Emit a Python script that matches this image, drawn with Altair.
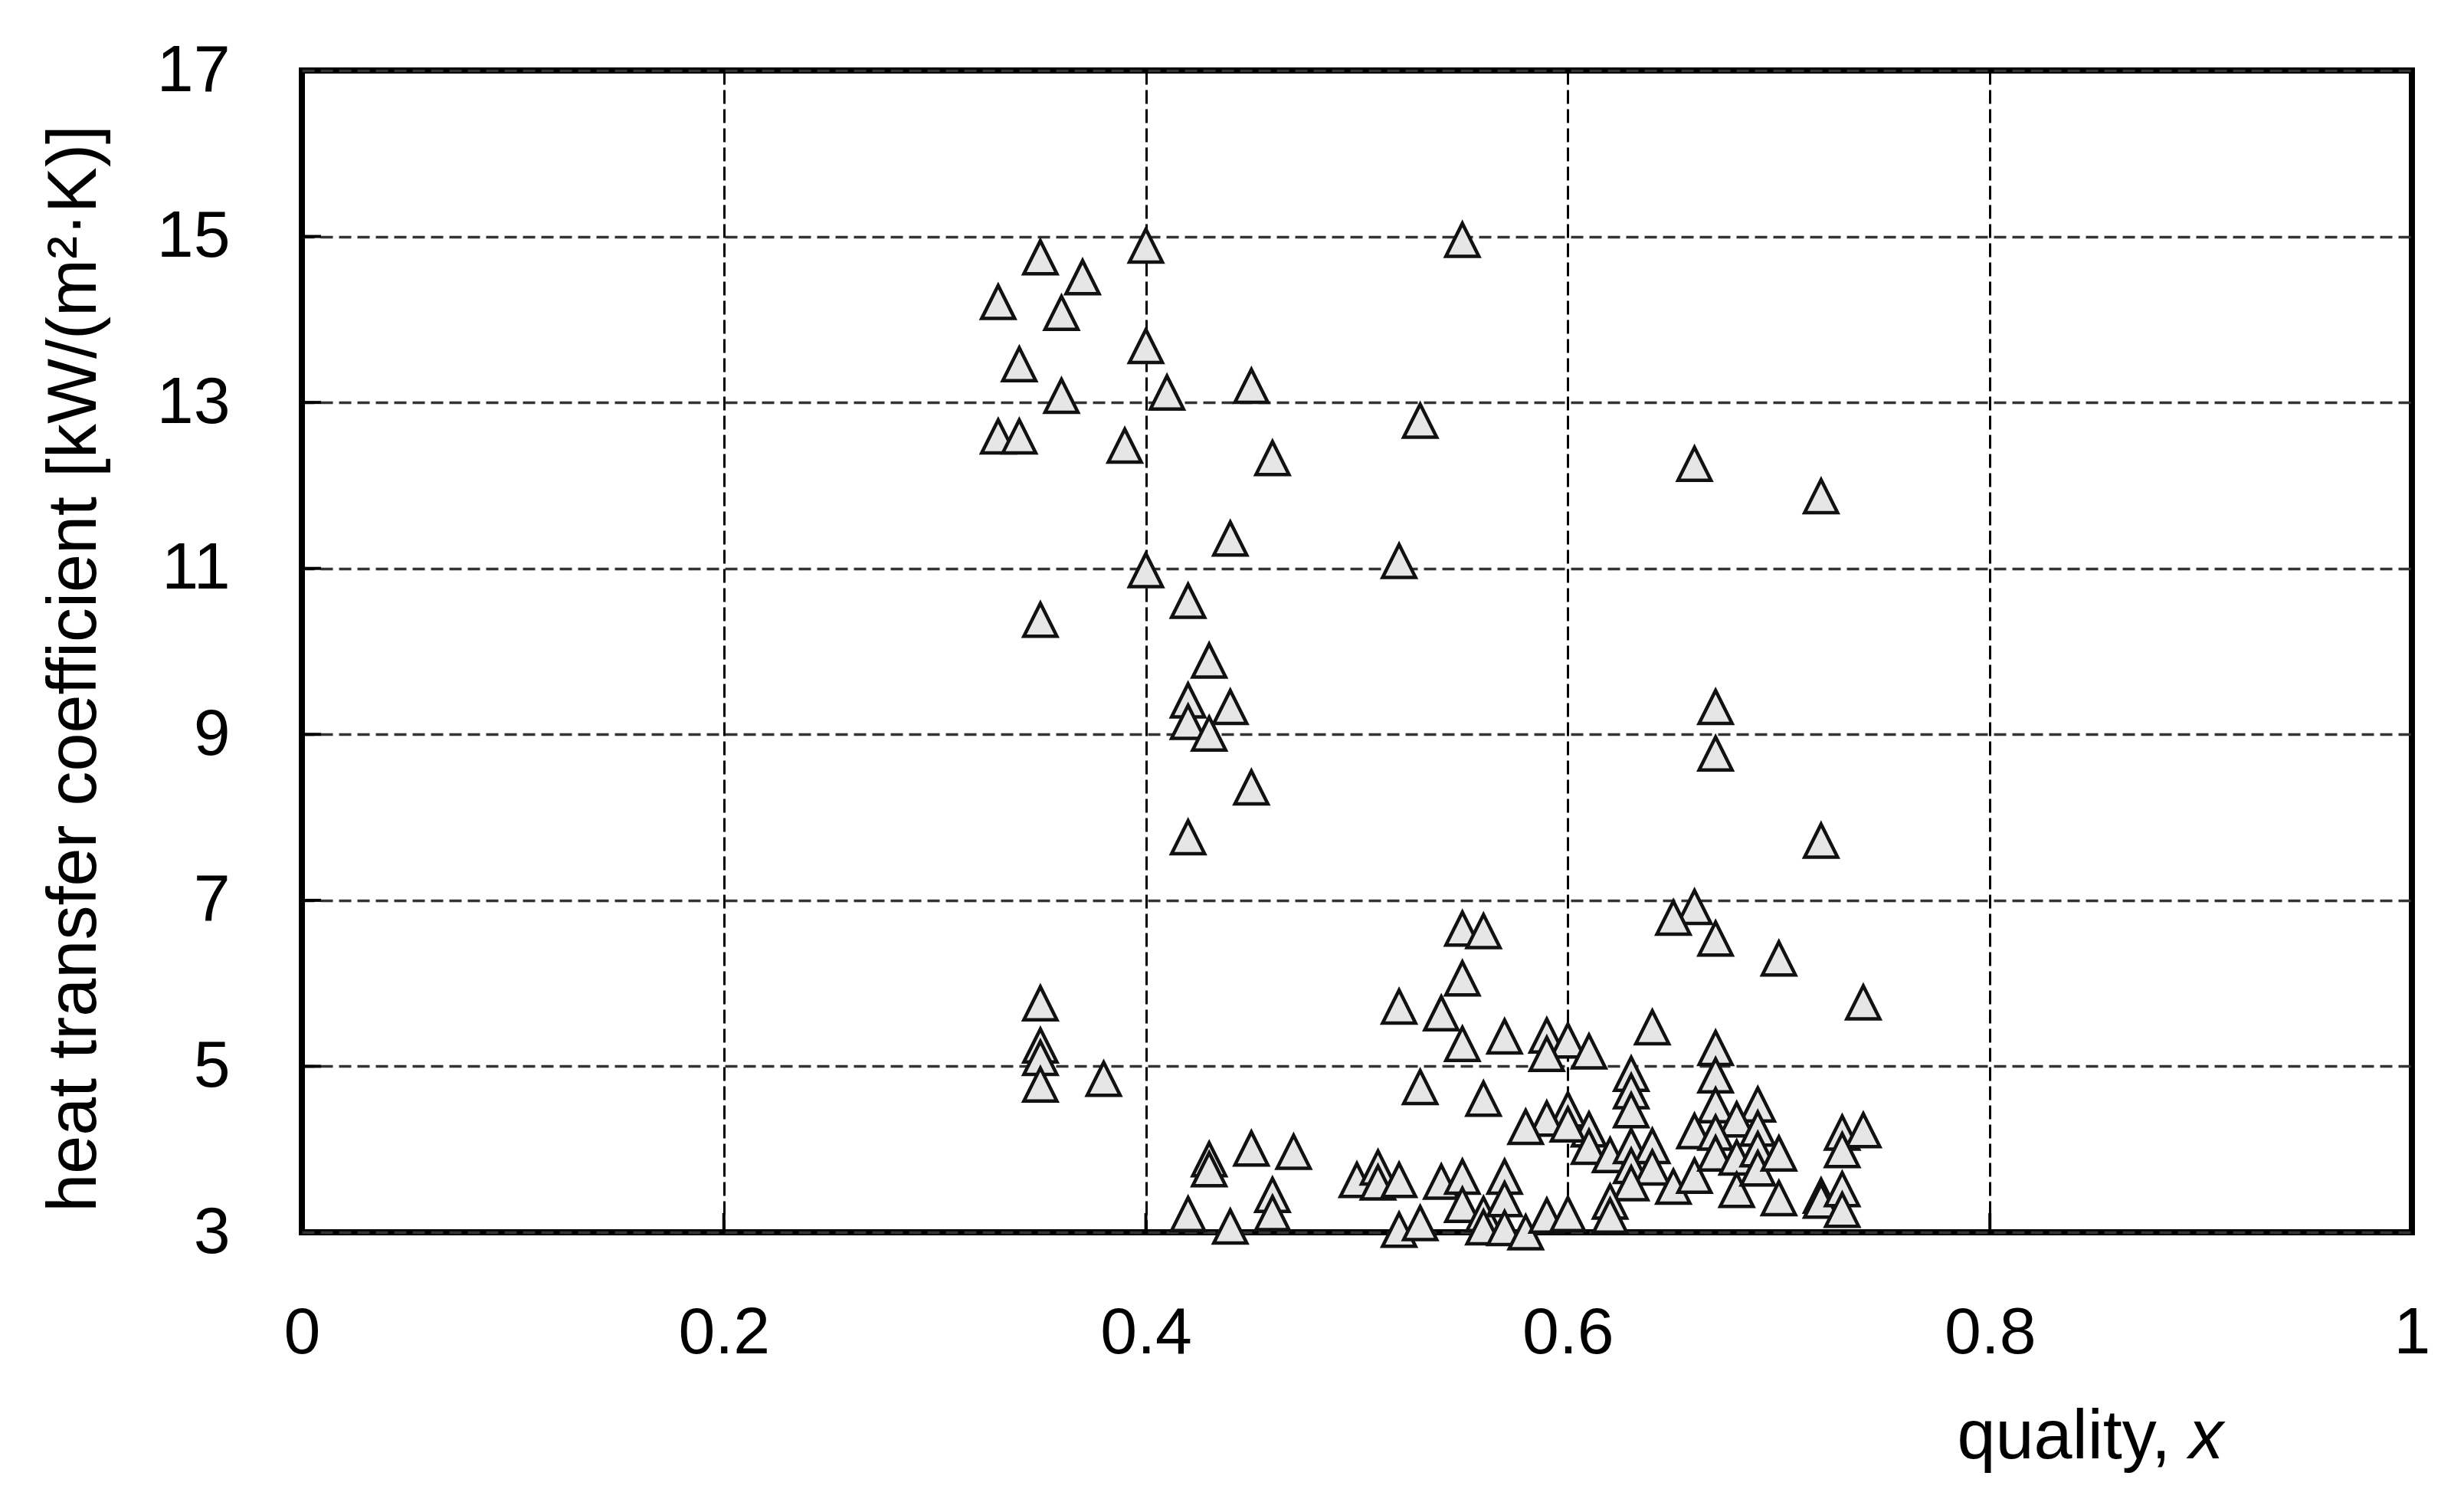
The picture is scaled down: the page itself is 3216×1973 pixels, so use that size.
import altair as alt
import pandas as pd

# ---- data ----
quality = [
    0.35, 0.40, 0.55, 0.33, 0.37, 0.36, 0.34, 0.40, 0.36, 0.41, 0.45, 0.33, 0.34, 0.39,
    0.53, 0.46, 0.66, 0.72, 0.44, 0.52, 0.40, 0.42, 0.35, 0.43, 0.42, 0.44, 0.42, 0.43,
    0.67, 0.67, 0.45, 0.42, 0.72,
    0.66, 0.65, 0.55, 0.56, 0.67, 0.70, 0.55, 0.35, 0.74, 0.52, 0.54, 0.64, 0.57, 0.55,
    0.59, 0.60, 0.61, 0.59, 0.67, 0.35, 0.35, 0.35, 0.38, 0.63, 0.67, 0.53, 0.56, 0.63,
    0.63, 0.67, 0.69, 0.60, 0.59, 0.58, 0.61, 0.60, 0.68, 0.66, 0.67, 0.69, 0.73, 0.74,
    0.61, 0.62, 0.63, 0.64, 0.63, 0.64, 0.63, 0.65, 0.66, 0.67, 0.68, 0.68, 0.69, 0.69,
    0.70, 0.70, 0.72, 0.72, 0.73, 0.73, 0.73,
    0.43, 0.43, 0.45, 0.47, 0.42, 0.44, 0.46, 0.46, 0.50, 0.51, 0.51, 0.52, 0.54, 0.55,
    0.55, 0.52, 0.53, 0.56, 0.56, 0.57, 0.57, 0.57, 0.58, 0.59, 0.60, 0.62, 0.62,
]
htc = [
    14.75, 14.89, 14.96, 14.21, 14.51, 14.08, 13.46, 13.68, 13.08, 13.12, 13.20, 12.59, 12.59, 12.48,
    12.78, 12.33, 12.26, 11.87, 11.36, 11.09, 10.98, 10.61, 10.38, 9.89, 9.41, 9.33, 9.15, 9.01,
    9.33, 8.77, 8.36, 7.76, 7.72,
    6.92, 6.79, 6.66, 6.63, 6.54, 6.30, 6.06, 5.76, 5.77, 5.72, 5.64, 5.47, 5.36, 5.27,
    5.37, 5.31, 5.18, 5.15, 5.22, 5.25, 5.10, 4.78, 4.85, 4.91, 4.89, 4.75, 4.61, 4.70,
    4.47, 4.53, 4.54, 4.48, 4.37, 4.27, 4.24, 4.30, 4.36, 4.22, 4.20, 4.25, 4.20, 4.23,
    4.03, 3.93, 4.04, 4.04, 3.80, 3.78, 3.59, 3.55, 3.68, 3.95, 3.90, 3.51, 4.00, 3.77,
    3.95, 3.41, 3.44, 3.38, 3.99, 3.52, 3.27,
    3.88, 3.76, 4.01, 3.97, 3.22, 3.07, 3.45, 3.23, 3.63, 3.78, 3.60, 3.63, 3.61, 3.67,
    3.33, 3.03, 3.11, 3.22, 3.06, 3.67, 3.40, 3.05, 3.00, 3.20, 3.22, 3.37, 3.20,
]
x_ticks = [0, 0.2, 0.4, 0.6, 0.8, 1]
y_ticks = [3, 5, 7, 9, 11, 13, 15, 17]
y_title = "heat transfer coefficient [kW/(m²·K)]"
x_title = "quality,"
x_title_var = "x"

# ---- layout / style ----
W, H = 2754, 1516
FONT = "Liberation Sans"
LABEL_SIZE = 86
TITLE_SIZE = 90

df = pd.DataFrame({"quality": quality, "htc": htc})

xscale = alt.Scale(domain=[0, 1], nice=False, zero=False)
yscale = alt.Scale(domain=[3, 17], nice=False, zero=False)

xaxis = alt.Axis(
    values=x_ticks, format="~g", grid=True, gridColor="#000000", gridWidth=3,
    gridDash=[18, 7], domain=False, ticks=False, labelFontSize=LABEL_SIZE,
    labelFont=FONT, labelColor="#000000", labelPadding=89, labelFlush=False,
    labelOverlap=False, title=None,
)
yaxis = alt.Axis(
    values=y_ticks, grid=True, gridColor="#333333", gridWidth=3.5, gridDash=[16, 8],
    domain=False, ticks=False, labelFontSize=LABEL_SIZE, labelFont=FONT,
    labelColor="#000000", labelPadding=94, labelFlush=False, labelOverlap=False,
    title=y_title, titleFont=FONT, titleFontSize=TITLE_SIZE, titleFontWeight="normal",
    titleColor="#000000", titleX=-297, titleY=780, titleAngle=270,
    titleAlign="center", titleBaseline="middle",
)

xtick_df = pd.DataFrame({"v": x_ticks[1:-1]})
ytick_df = pd.DataFrame({"v": y_ticks[1:-1]})

xt = alt.Chart(xtick_df).mark_rule(color="#000000", strokeWidth=4).encode(
    x=alt.X("v:Q", scale=xscale, axis=xaxis),
    y=alt.value(H), y2=alt.value(H - 25),
)
yt = alt.Chart(ytick_df).mark_rule(color="#000000", strokeWidth=4).encode(
    y=alt.Y("v:Q", scale=yscale, axis=yaxis),
    x=alt.value(0), x2=alt.value(25),
)

points = alt.Chart(df).mark_point(
    shape="M0,-1L1,1L-1,1Z", size=1850, filled=True, fill="#e6e6e6",
    stroke="#111111", strokeWidth=4.5, opacity=1, fillOpacity=1, strokeJoin="miter",
).encode(
    x=alt.X("quality:Q", scale=xscale, axis=xaxis),
    y=alt.Y("htc:Q", scale=yscale, axis=yaxis),
)

one = alt.Data(values=[{"a": 1}])
t1 = alt.Chart(one).mark_text(
    text=x_title, align="right", baseline="alphabetic", font=FONT,
    fontSize=TITLE_SIZE, color="#000000",
).encode(x=alt.value(2439), y=alt.value(1811))
t2 = alt.Chart(one).mark_text(
    text=x_title_var, align="right", baseline="alphabetic", font=FONT,
    fontSize=TITLE_SIZE, fontStyle="italic", color="#000000",
).encode(x=alt.value(2508), y=alt.value(1811))

chart = alt.layer(xt, yt, points, t1, t2).properties(
    width=W, height=H,
    autosize=alt.AutoSizeParams(type="none"),
    padding={"left": 386, "top": 84, "right": 60, "bottom": 357},
    background="white",
).configure_view(stroke="#000000", strokeWidth=8)

chart.save("out.html", embed_options={"renderer": "svg", "actions": False})
